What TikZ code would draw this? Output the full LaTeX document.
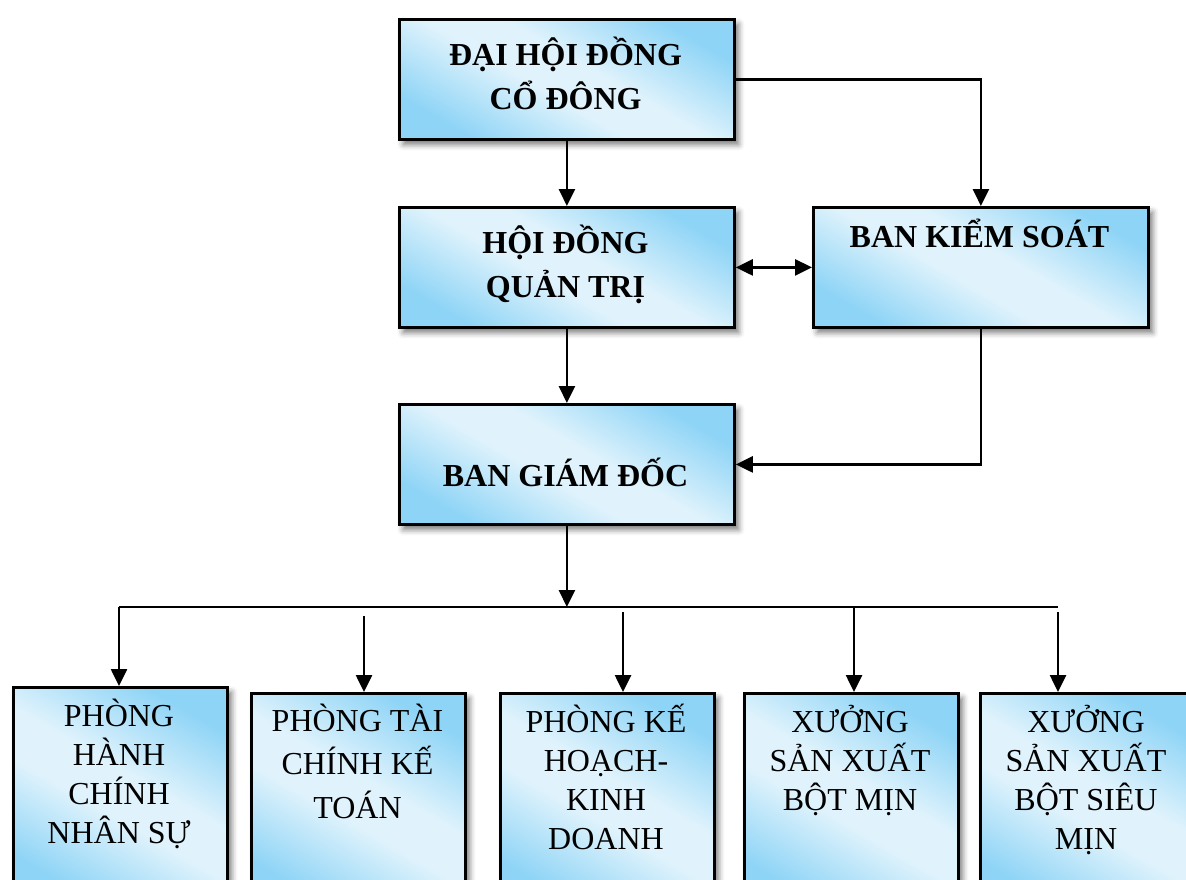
\documentclass[tikz,border=0pt]{standalone}
\usepackage{fontspec}
\setmainfont{Liberation Serif}
\usetikzlibrary{arrows.meta,shadows.blur}
\definecolor{bdark}{RGB}{142,212,246}
\definecolor{blight}{RGB}{224,243,252}
\pgfdeclarehorizontalshading{boxsh}{100bp}{color(0bp)=(bdark); color(25bp)=(bdark); color(45bp)=(blight); color(55bp)=(blight); color(75bp)=(bdark); color(100bp)=(bdark)}
\tikzset{
  box/.style={draw=black, line width=2.8pt, shading=boxsh, shading angle=60,
    inner sep=0pt, anchor=north west,
    blur shadow={shadow xshift=4pt, shadow yshift=-5pt, shadow blur radius=6pt, shadow opacity=55}},
  topbox/.style={box, minimum width=335pt, minimum height=120pt},
  lowbox/.style={box, minimum width=214pt, minimum height=214pt},
  btxt/.style={inner sep=0pt, anchor=north, align=center, font=\fontsize{32}{44}\selectfont\bfseries},
  rtxt/.style={inner sep=0pt, anchor=north, align=center, font=\fontsize{32}{39}\selectfont},
  arr/.style={line width=2.6pt, -{Triangle[length=17pt,width=16pt]}},
  dbl/.style={line width=2.6pt, {Triangle[length=17pt,width=16pt]}-{Triangle[length=17pt,width=16pt]}},
  ln/.style={line width=2.6pt}
}
\newcommand{\fs}{\rule{0pt}{30pt}}
\begin{document}
\begin{tikzpicture}[x=1pt,y=-1pt]
\useasboundingbox (0,0) rectangle (1186,880);
% top boxes
\node[topbox] (A) at (398,18) {};
\node[topbox] (B) at (398,206) {};
\node[topbox] (K) at (812,206) {};
\node[topbox] (G) at (398,403) {};
\node[btxt] (tA) at (565.5,35) {\fs ĐẠI HỘI ĐỒNG\\CỔ ĐÔNG};
\node[btxt] (tB) at (565.5,223) {\fs HỘI ĐỒNG\\QUẢN TRỊ};
\node[btxt] (tK) at (979.5,217) {\fs BAN KIỂM SOÁT};
\node[btxt] (tG) at (565.5,456) {\fs BAN GIÁM ĐỐC};
% bottom boxes
\node[lowbox] (P1) at (12,686) {};
\node[lowbox] (P2) at (250,692) {};
\node[lowbox] (P3) at (499,692) {};
\node[lowbox] (P4) at (743,692) {};
\node[lowbox] (P5) at (979,692) {};
\node[rtxt] (t1) at (119,696) {\fs PHÒNG\\HÀNH\\CHÍNH\\NHÂN SỰ};
\node[rtxt, font=\fontsize{32}{43.5}\selectfont] (t2) at (357.5,701) {\fs PHÒNG TÀI\\CHÍNH KẾ\\TOÁN};
\node[rtxt] (t3) at (606,702) {\fs PHÒNG KẾ\\HOẠCH-\\KINH\\DOANH};
\node[rtxt] (t4) at (850,702) {\fs XƯỞNG\\SẢN XUẤT\\BỘT MỊN};
\node[rtxt] (t5) at (1086,702) {\fs XƯỞNG\\SẢN XUẤT\\BỘT SIÊU\\MỊN};
% connectors
\draw[arr] (A.east) -| (K.north);
\draw[arr] (A) -- (B);
\draw[dbl] (B.east) -- (K.west);
\draw[arr] (B) -- (G);
\draw[arr] (K.south) |- (G.east);
\coordinate (busL) at (119,607);
\coordinate (busR) at (1058,607);
\coordinate (bus) at (G.south |- busL);
\draw[arr] (G.south) -- (bus);
\draw[ln] (busL) -- (busR);
\draw[arr] (busL) -- (busL |- P1.north);
\coordinate (s2) at (364,616);
\coordinate (s3) at (623,612);
\coordinate (s4) at (854,607);
\coordinate (s5) at (1058,612);
\draw[arr] (s2) -- (s2 |- P2.north);
\draw[arr] (s3) -- (s3 |- P3.north);
\draw[arr] (s4) -- (s4 |- P4.north);
\draw[arr] (s5) -- (s5 |- P5.north);
\end{tikzpicture}
\end{document}
